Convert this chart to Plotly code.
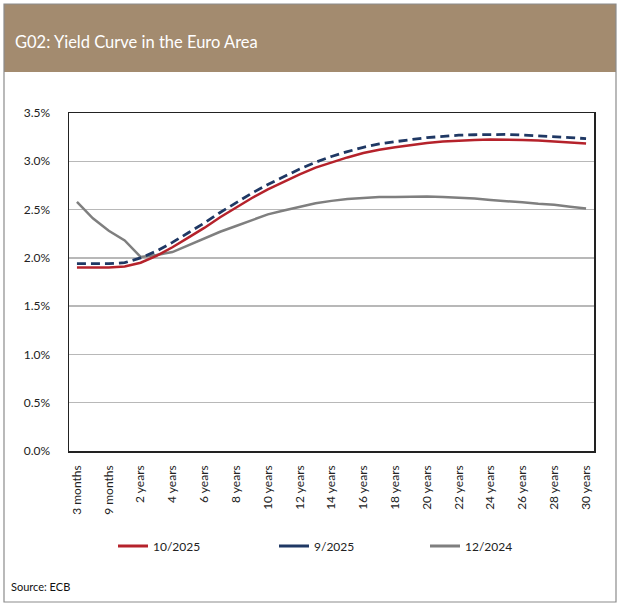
import plotly.graph_objects as go

categories = ["3 months", "6 months", "9 months", "1 year"] + [f"{n} years" for n in range(2, 31)]
tick_labels = [categories[i] for i in range(0, len(categories), 2)]

oct_2025 = [1.90, 1.90, 1.90, 1.91, 1.95, 2.02, 2.11, 2.21, 2.31, 2.42, 2.52, 2.62, 2.71,
            2.79, 2.865, 2.935, 2.99, 3.04, 3.085, 3.12, 3.145, 3.17, 3.19, 3.205, 3.215,
            3.22, 3.225, 3.225, 3.22, 3.215, 3.205, 3.195, 3.185]
sep_2025 = [1.94, 1.94, 1.94, 1.95, 2.00, 2.07, 2.16, 2.26, 2.36, 2.47, 2.57, 2.67, 2.76,
            2.84, 2.92, 2.99, 3.05, 3.10, 3.145, 3.18, 3.205, 3.225, 3.245, 3.26, 3.27,
            3.275, 3.28, 3.278, 3.272, 3.265, 3.255, 3.245, 3.235]
dec_2024 = [2.58, 2.41, 2.28, 2.18, 2.01, 2.03, 2.06, 2.13, 2.20, 2.27, 2.33, 2.39, 2.45,
            2.49, 2.53, 2.565, 2.59, 2.61, 2.62, 2.63, 2.63, 2.635, 2.635, 2.63, 2.625,
            2.615, 2.60, 2.59, 2.575, 2.56, 2.55, 2.53, 2.51]

series_names = ["10/2025", "9/2025", "12/2024"]
y_ticks = [0, 0.5, 1.0, 1.5, 2.0, 2.5, 3.0, 3.5]
y_tick_text = ["0.0%", "0.5%", "1.0%", "1.5%", "2.0%", "2.5%", "3.0%", "3.5%"]

RED = "#B5222B"
BLUE = "#1F3864"
GRAY = "#7F7F7F"
FONT = "Lato"

W_FIG, H_FIG = 621, 607
L, R, T, B = 69, 594, 113, 451
PW, PH = R - L, B - T

def px(p):
    return (p - L) / PW

def py(q):
    return (B - q) / PH

fig = go.Figure()
fig.add_trace(go.Scatter(x=categories, y=dec_2024, mode="lines", line=dict(color=GRAY, width=2.5),
                         showlegend=False))
fig.add_trace(go.Scatter(x=categories, y=oct_2025, mode="lines", line=dict(color=RED, width=2.5),
                         showlegend=False))
fig.add_trace(go.Scatter(x=categories, y=sep_2025, mode="lines",
                         line=dict(color=BLUE, width=2.8, dash="9px,5px"), showlegend=False))

# legend entries (solid line symbols as in the reference)
for name, col, leg in zip(series_names, [RED, BLUE, GRAY], ["legend", "legend2", "legend3"]):
    fig.add_trace(go.Scatter(x=[None], y=[None], mode="lines", name=name,
                             line=dict(color=col, width=3), legend=leg))

leg_common = dict(orientation="h", yanchor="middle", xanchor="left",
                  font=dict(family=FONT, size=12, color="#222222"),
                  bgcolor="rgba(0,0,0,0)", borderwidth=0)
fig.update_layout(
    legend=dict(x=px(113), y=py(546), **leg_common),
    legend2=dict(x=px(274), y=py(546), **leg_common),
    legend3=dict(x=px(425), y=py(546), **leg_common),
)

fig.update_xaxes(type="category", categoryorder="array", categoryarray=categories,
                 tickmode="array", tickvals=tick_labels, ticktext=tick_labels,
                 tickangle=-90, ticks="outside", ticklen=8, tickcolor="rgba(0,0,0,0)",
                 tickfont=dict(family=FONT, size=12, color="#222222"),
                 showgrid=False, showline=True, linecolor="#222222", linewidth=1.5,
                 mirror=True, range=[-0.5, len(categories) - 0.5], fixedrange=True)
fig.update_yaxes(range=[0, 3.5], tickmode="array", tickvals=y_ticks, ticktext=y_tick_text,
                 tickfont=dict(family=FONT, size=12, color="#222222"),
                 ticks="outside", ticklen=15, tickcolor="rgba(0,0,0,0)",
                 showgrid=True, gridcolor="#B8B8B8", gridwidth=1.5, zeroline=False,
                 showline=True, linecolor="#222222", linewidth=1.5, mirror=True, fixedrange=True)

shapes = [
    dict(type="rect", xref="paper", yref="paper", x0=px(4), x1=px(616), y0=py(72), y1=py(4),
         fillcolor="#A38B6F", line=dict(width=0), layer="below"),
    dict(type="rect", xref="paper", yref="paper", x0=px(4), x1=px(616), y0=py(602), y1=py(4),
         fillcolor="rgba(0,0,0,0)", line=dict(color="#8C8C8C", width=1.2)),
]
annotations = [
    dict(text="G02: Yield Curve in the Euro Area", xref="paper", yref="paper", x=px(13), y=py(42),
         xanchor="left", yanchor="middle", showarrow=False,
         font=dict(family=FONT, size=16.5, color="white")),
    dict(text="Source: ECB", xref="paper", yref="paper", x=px(9), y=py(586),
         xanchor="left", yanchor="middle", showarrow=False,
         font=dict(family=FONT, size=11, color="#111111")),
]

fig.update_layout(width=W_FIG, height=H_FIG,
                  margin=dict(l=L, r=W_FIG - R, t=T, b=H_FIG - B, pad=0),
                  paper_bgcolor="white", plot_bgcolor="white",
                  shapes=shapes, annotations=annotations, hovermode=False)

fig.write_html("out.html", config={"displayModeBar": False, "staticPlot": True},
               post_script="document.body.style.margin='0';document.body.style.overflow='hidden';")
